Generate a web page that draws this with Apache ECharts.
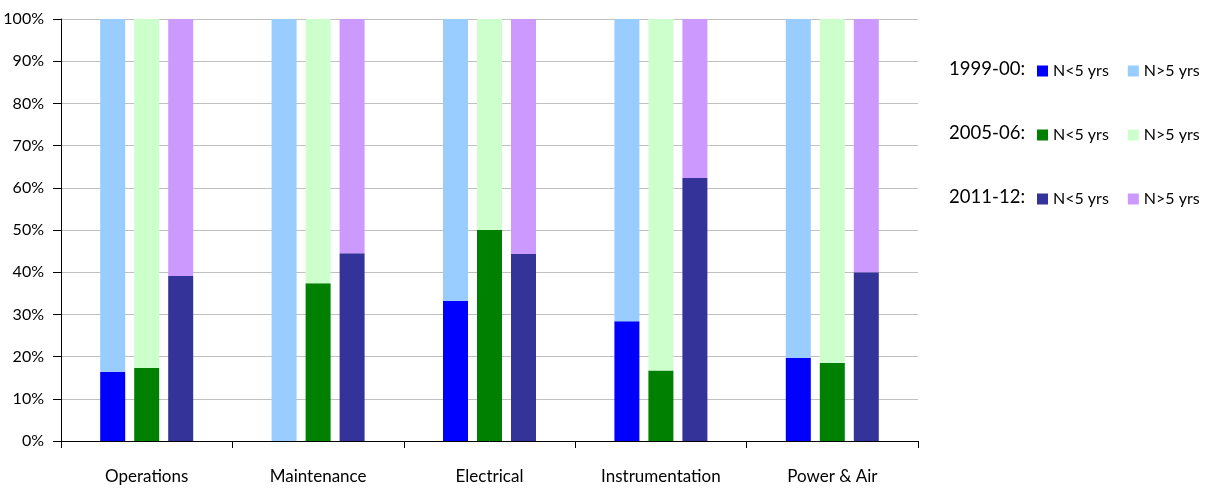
<!DOCTYPE html>
<html>
<head>
<meta charset="utf-8">
<script src="https://cdn.jsdelivr.net/npm/echarts@6/dist/echarts.min.js"></script>
<style>
  html, body { margin: 0; padding: 0; background: #fff; }
  #chart { width: 1220px; height: 489px; }
</style>
</head>
<body>
<div id="chart"></div>
<script>
// 分类与数据（百分比）
const categories = ['Operations', 'Maintenance', 'Electrical', 'Instrumentation', 'Power & Air']
const yTicks = ['0%', '10%', '20%', '30%', '40%', '50%', '60%', '70%', '80%', '90%', '100%']
const periods = ['1999-00:', '2005-06:', '2011-12:']

const under5_1999 = [16.4, 0, 33.2, 28.4, 19.7]
const over5_1999 = [83.6, 100, 66.8, 71.6, 80.3]
const under5_2005 = [17.3, 37.4, 50.0, 16.7, 18.5]
const over5_2005 = [82.7, 62.6, 50.0, 83.3, 81.5]
const under5_2011 = [39.1, 44.5, 44.3, 62.3, 40.0]
const over5_2011 = [60.9, 55.5, 55.7, 37.7, 60.0]

const font = 'Lato, "Open Sans", sans-serif'

function bar(name, stack, data, color) {
  return {
    name: name,
    type: 'bar',
    stack: stack,
    data: data,
    barWidth: 25,
    barGap: '36%',
    itemStyle: { color: color },
    emphasis: { disabled: true },
  }
}

// 图例：每一期一行
const legendRows = [
  { names: ['a1', 'b1'], top: 63 },
  { names: ['a2', 'b2'], top: 127 },
  { names: ['a3', 'b3'], top: 191 },
]

const chart = echarts.init(document.getElementById('chart'))
const option = {
  animation: false,
  textStyle: { fontFamily: font },
  grid: { left: 61, right: 302, top: 19, bottom: 48 },
  legend: legendRows.map((row) => ({
    data: row.names,
    left: 1037,
    top: row.top,
    padding: 0,
    itemWidth: 11,
    itemHeight: 11,
    itemGap: 19,
    icon: 'rect',
    selectedMode: false,
    formatter: (n) => (n[0] === 'a' ? 'N<5 yrs' : 'N>5 yrs'),
    textStyle: { fontSize: 16, color: '#000', fontFamily: font },
  })),
  graphic: periods.map((p, i) => ({
    type: 'text',
    right: 1220 - 1025,
    top: legendRows[i].top - 3,
    style: { text: p, fontSize: 18.5, fontFamily: font, fill: '#000', textAlign: 'right' },
  })),
  xAxis: {
    type: 'category',
    data: categories,
    axisLine: { lineStyle: { color: '#000' } },
    axisTick: { show: true, length: 7, lineStyle: { color: '#000' } },
    axisLabel: { color: '#000', fontSize: 17, margin: 27 },
  },
  yAxis: {
    type: 'value',
    min: 0,
    max: 100,
    interval: 10,
    axisLine: { show: true, lineStyle: { color: '#000' } },
    axisTick: { show: true, length: 8, lineStyle: { color: '#000' } },
    axisLabel: {
      color: '#000',
      fontSize: 16,
      margin: 17,
      formatter: (v) => yTicks[Math.round(v / 10)],
    },
    splitLine: { lineStyle: { color: '#c0c0c0' } },
  },
  series: [
    bar('a1', '1999', under5_1999, '#0000ff'),
    bar('b1', '1999', over5_1999, '#99ccff'),
    bar('a2', '2005', under5_2005, '#008000'),
    bar('b2', '2005', over5_2005, '#ccffcc'),
    bar('a3', '2011', under5_2011, '#333399'),
    bar('b3', '2011', over5_2011, '#cc99ff'),
  ],
}
chart.setOption(option)
</script>
</body>
</html>
